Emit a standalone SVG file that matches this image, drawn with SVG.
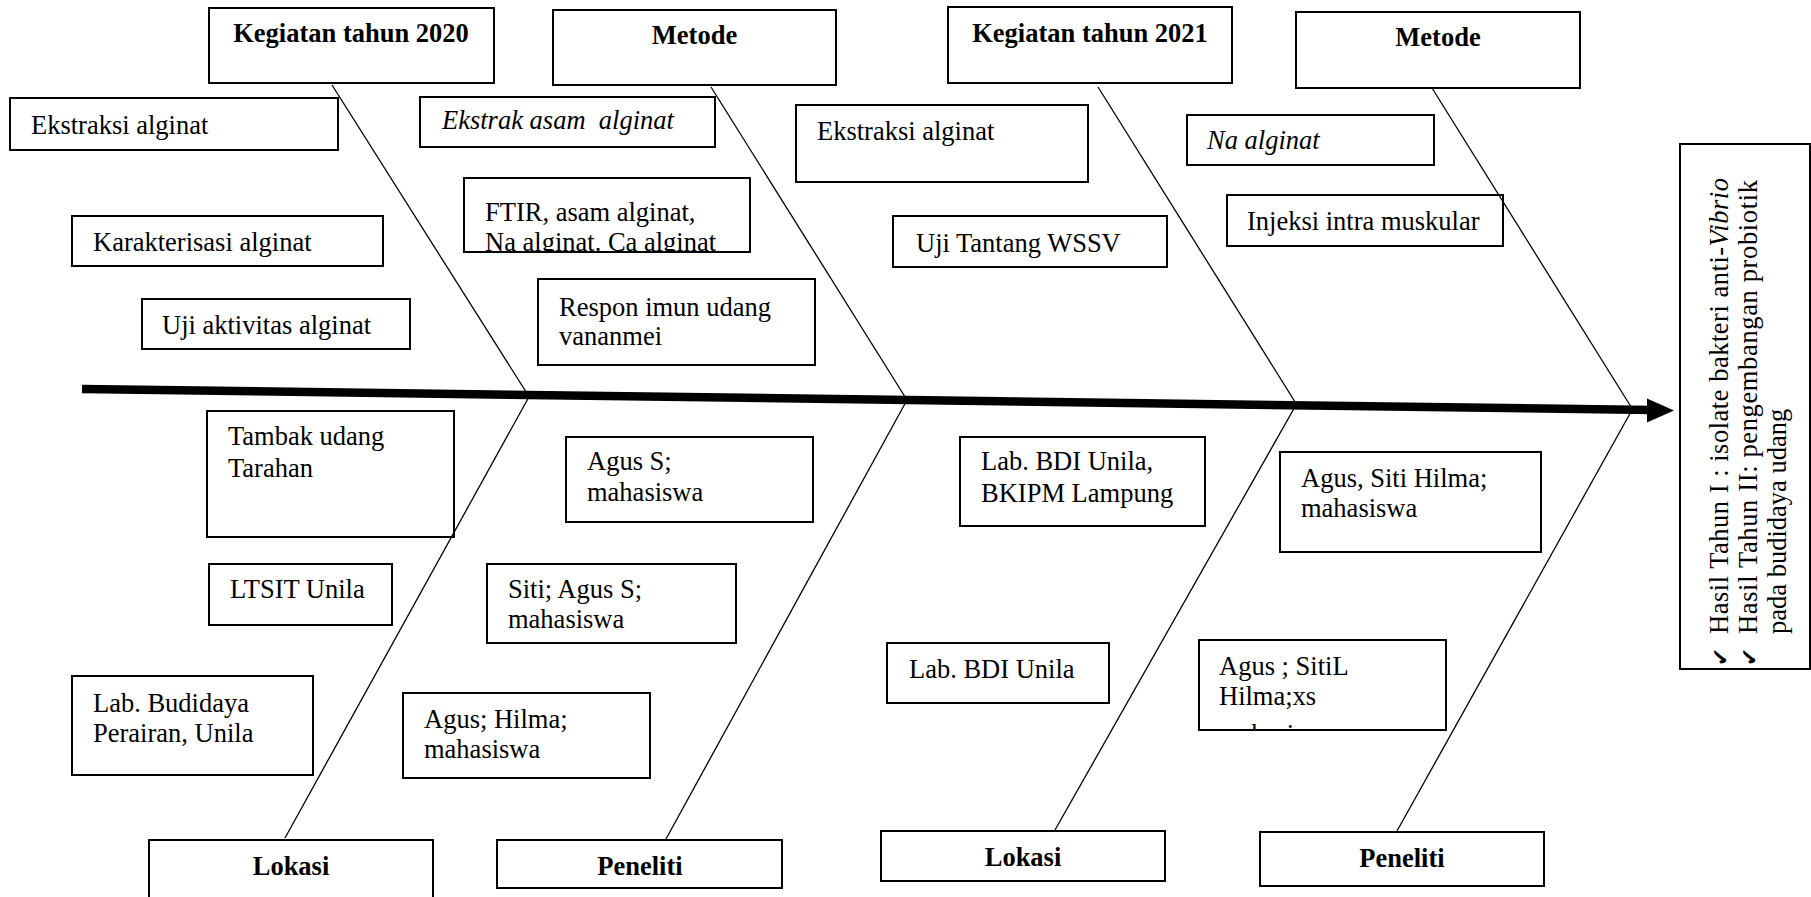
<svg xmlns="http://www.w3.org/2000/svg" width="1811" height="897" viewBox="0 0 1811 897">
<style>
.box{fill:none;stroke:#000;stroke-width:2}
.t{font-family:"Liberation Serif","Times New Roman",serif;font-size:26.5px;fill:#000;white-space:pre}
.h{font-weight:bold;text-anchor:middle}
.i{font-style:italic}
.bone{stroke:#000;stroke-width:1.3;fill:none}
.chk{font-family:"DejaVu Sans",sans-serif;font-size:22px;fill:#000}
</style>
<defs>
<clipPath id="cFtir"><rect x="464" y="179" width="285" height="72"/></clipPath>
<clipPath id="cSiti"><rect x="1200" y="641" width="245" height="88"/></clipPath>
</defs>
<rect width="1811" height="897" fill="#fff"/>

<g id="kegiatan2020"><rect class="box" x="209" y="8" width="285" height="75"/><text class="t h" x="351" y="42">Kegiatan tahun 2020</text></g>
<g id="metode2020"><rect class="box" x="553" y="10" width="283" height="75"/><text class="t h" x="694.5" y="44">Metode</text></g>
<g id="kegiatan2021"><rect class="box" x="948" y="7" width="284" height="76"/><text class="t h" x="1090" y="42">Kegiatan tahun 2021</text></g>
<g id="metode2021"><rect class="box" x="1296" y="12" width="284" height="76"/><text class="t h" x="1438" y="46">Metode</text></g>

<g id="ekstraksi2020"><rect class="box" x="10" y="98" width="328" height="52"/><text class="t" x="31" y="134">Ekstraksi alginat</text></g>
<g id="karakterisasi"><rect class="box" x="72" y="216" width="311" height="50"/><text class="t" x="93" y="251">Karakterisasi alginat</text></g>
<g id="ujiaktivitas"><rect class="box" x="142" y="299" width="268" height="50"/><text class="t" x="162" y="334">Uji aktivitas alginat</text></g>

<g id="ekstrakasam"><rect class="box" x="420" y="97" width="295" height="50"/><text class="t i" x="442" y="129">Ekstrak asam  alginat</text></g>
<g id="ftir"><rect class="box" x="464" y="178" width="286" height="74"/><g clip-path="url(#cFtir)"><text class="t" x="485" y="221">FTIR, asam alginat,</text><text class="t" x="485" y="251">Na alginat. Ca alginat</text></g></g>
<g id="respon"><rect class="box" x="538" y="279" width="277" height="86"/><text class="t" x="559" y="316">Respon imun udang</text><text class="t" x="559" y="345">vananmei</text></g>

<g id="ekstraksi2021"><rect class="box" x="796" y="105" width="292" height="77"/><text class="t" x="817" y="140">Ekstraksi alginat</text></g>
<g id="ujitantang"><rect class="box" x="893" y="216" width="274" height="51"/><text class="t" x="916" y="252">Uji Tantang WSSV</text></g>

<g id="naalginat"><rect class="box" x="1187" y="115" width="247" height="50"/><text class="t i" x="1207" y="149">Na alginat</text></g>
<g id="injeksi"><rect class="box" x="1227" y="195" width="276" height="51"/><text class="t" x="1247" y="230">Injeksi intra muskular</text></g>

<g id="tambak"><rect class="box" x="207" y="411" width="247" height="126"/><text class="t" x="228" y="445">Tambak udang</text><text class="t" x="228" y="477">Tarahan</text></g>
<g id="ltsit"><rect class="box" x="209" y="564" width="183" height="61"/><text class="t" x="230" y="598">LTSIT Unila</text></g>
<g id="labbudidaya"><rect class="box" x="72" y="676" width="241" height="99"/><text class="t" x="93" y="712">Lab. Budidaya</text><text class="t" x="93" y="742">Perairan, Unila</text></g>

<g id="agusS"><rect class="box" x="566" y="437" width="247" height="85"/><text class="t" x="587" y="470">Agus S;</text><text class="t" x="587" y="501">mahasiswa</text></g>
<g id="sitiAgus"><rect class="box" x="487" y="564" width="249" height="79"/><text class="t" x="508" y="598">Siti; Agus S;</text><text class="t" x="508" y="628">mahasiswa</text></g>
<g id="agusHilma"><rect class="box" x="403" y="693" width="247" height="85"/><text class="t" x="424" y="728">Agus; Hilma;</text><text class="t" x="424" y="758">mahasiswa</text></g>

<g id="labBdiBkipm"><rect class="box" x="960" y="437" width="245" height="89"/><text class="t" x="981" y="470">Lab. BDI Unila,</text><text class="t" x="981" y="502">BKIPM Lampung</text></g>
<g id="labBdi"><rect class="box" x="887" y="643" width="222" height="60"/><text class="t" x="909" y="678">Lab. BDI Unila</text></g>

<g id="agusSitiHilma"><rect class="box" x="1280" y="452" width="261" height="100"/><text class="t" x="1301" y="487">Agus, Siti Hilma;</text><text class="t" x="1301" y="517">mahasiswa</text></g>
<g id="agusSitiL"><rect class="box" x="1199" y="640" width="247" height="90"/><g clip-path="url(#cSiti)"><text class="t" x="1219" y="675">Agus ; SitiL</text><text class="t" x="1219" y="705">Hilma;xs</text><text class="t" x="1219" y="743">mahasiswa</text></g></g>

<g id="lokasi2020"><rect class="box" x="149" y="840" width="284" height="80"/><text class="t h" x="291" y="875">Lokasi</text></g>
<g id="peneliti2020"><rect class="box" x="497" y="840" width="285" height="48"/><text class="t h" x="640" y="875">Peneliti</text></g>
<g id="lokasi2021"><rect class="box" x="881" y="831" width="284" height="50"/><text class="t h" x="1023" y="866">Lokasi</text></g>
<g id="peneliti2021"><rect class="box" x="1260" y="832" width="284" height="54"/><text class="t h" x="1402" y="867">Peneliti</text></g>

<g id="hasil">
<rect class="box" x="1680" y="144" width="130" height="525"/>
<text class="chk" transform="translate(1728,666) rotate(-90)">✔</text>
<text class="chk" transform="translate(1757,666) rotate(-90)">✔</text>
<text class="t" transform="translate(1728,634) rotate(-90)" textLength="456" lengthAdjust="spacing">Hasil Tahun I : isolate bakteri anti-<tspan font-style="italic">Vibrio</tspan></text>
<text class="t" transform="translate(1757,634) rotate(-90)" textLength="454" lengthAdjust="spacing">Hasil Tahun II: pengembangan probiotik</text>
<text class="t" transform="translate(1786,634) rotate(-90)">pada budidaya udang</text>
</g>

<g id="connectors">
<line x1="82" y1="389" x2="1652" y2="410" stroke="#000" stroke-width="8.5"/>
<polygon points="1647,398.5 1674,410.5 1647,422.5" fill="#000"/>
<line class="bone" x1="332" y1="85" x2="528" y2="395"/>
<line class="bone" x1="285" y1="838" x2="530" y2="395"/>
<line class="bone" x1="711" y1="87" x2="907" y2="400"/>
<line class="bone" x1="666" y1="839" x2="907" y2="400"/>
<line class="bone" x1="1098" y1="87" x2="1297" y2="405"/>
<line class="bone" x1="1055" y1="830" x2="1296" y2="405"/>
<line class="bone" x1="1432" y1="88" x2="1633" y2="410"/>
<line class="bone" x1="1397" y1="831" x2="1632" y2="410"/>
</g>
</svg>
